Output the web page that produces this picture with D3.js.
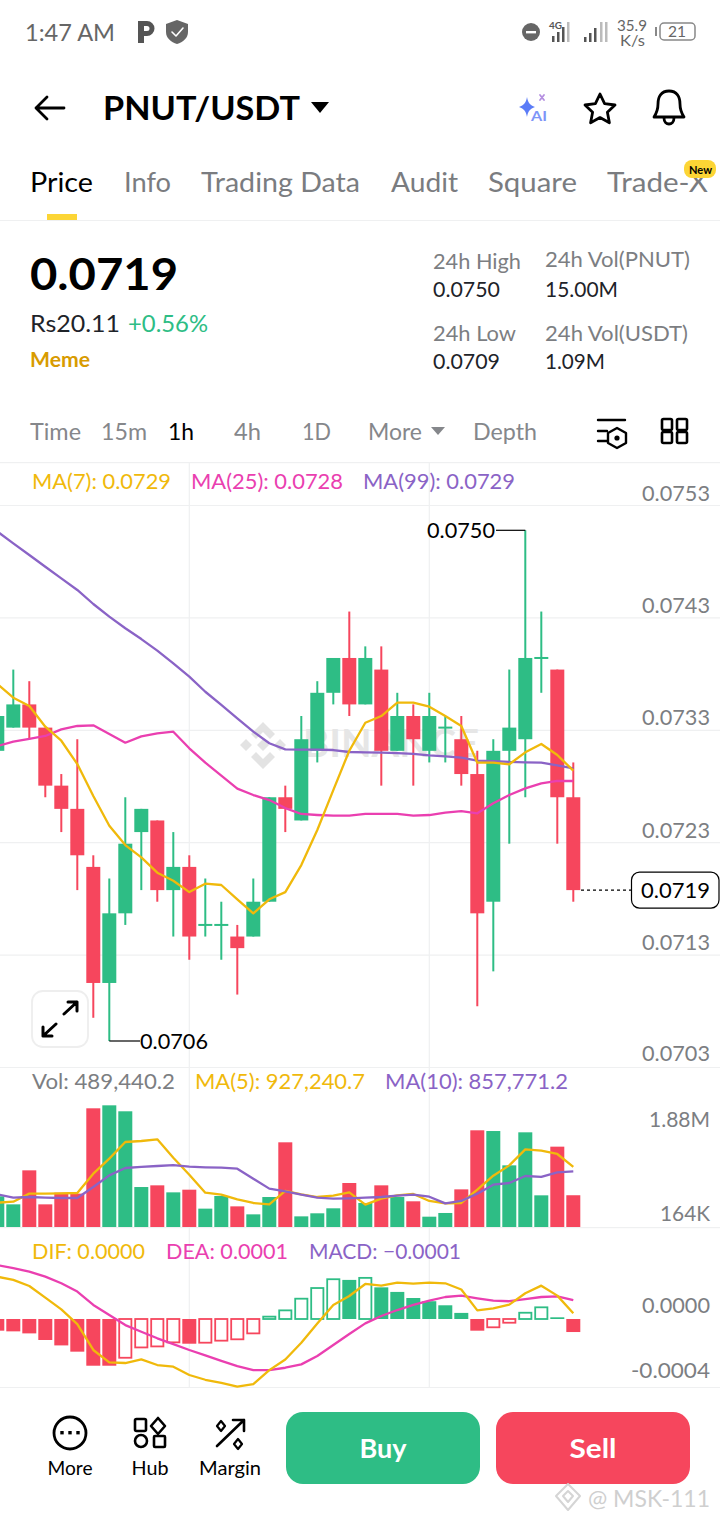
<!DOCTYPE html>
<html>
<head>
<meta charset="UTF-8">
<title>PNUT/USDT</title>
<script src="https://cdn.jsdelivr.net/npm/d3@7"></script>
<style>
html, body { margin: 0; padding: 0; background: #fff; }
svg { display: block; }
text { font-family: Lato, "Noto Sans", sans-serif; }
</style>
</head>
<body>
<div id="chart"></div>
<script>
// prices are in units of 0.0001
var open_ = [731,733,735,733,728,726,721,711,717,724,725,719,721,716,716,715,715,718,727,725,731,736,739,735,738,731,734,731,733,732,729,718,731,732,739,738,727];
var close_ = [734,735,733,728,726,722,711,717,723,726,719,721,715,716,716,714,718,727,726,732,736,739,735,739,731,734,732,734,733,729,717,731,733,739,739,727,719];
var high = [734,738,737,733,729,732,722,720,727,726,725,724,722,720,718,716,720,727,728,734,737,739,743,740,740,736,735,736,734,734,731,732,738,750,743,738,730];
var low = [731,733,732,727,724,719,708,706,716,719,718,715,713,715,713,710,715,718,724,725,730,735,734,735,728,731,728,730,730,728,709,712,723,727,736,723,718];

var ma7 = [736.76,735.58,734.86,733.08,731.87,729.86,727.11,724.55,722.88,721.82,720.50,719.81,718.83,719.55,719.44,718.21,717.00,718.21,718.83,721.16,724.18,727.62,731.01,733.42,734.00,735.15,735.15,734.80,734.00,733.14,729.98,729.98,729.84,730.87,731.59,730.64,729.29];
var ma25 = [731.41,731.79,732.04,732.28,732.85,733.14,733.20,732.45,731.70,732.25,732.51,732.65,731.22,729.98,728.86,727.74,727.19,726.76,726.07,725.56,725.47,725.41,725.41,725.56,725.56,725.56,725.41,725.47,725.67,725.81,725.62,726.48,727.19,727.77,728.20,728.42,728.40];
var ma99 = [749.90,748.88,747.87,746.86,745.86,744.86,743.65,742.56,741.56,740.63,739.63,738.54,737.39,736.09,734.95,733.80,732.65,731.65,731.13,731.10,731.10,731.07,730.90,730.87,730.84,730.81,730.73,730.61,730.53,730.41,730.15,730.12,730.04,730.01,729.98,729.75,729.49];

// volume, thousands
var volume = [473,349,873,349,529,514,1829,1875,1783,616,642,534,575,283,478,318,195,462,1305,164,211,288,678,370,642,462,396,159,216,580,1490,1479,950,1459,488,1238,489.4];
var volMa5 = [375,390,514,514,519,524,822,1053,1310,1325,1351,1068,806,529,498,426,370,349,555,503,462,483,534,344,437,488,509,401,365,370,575,791,950,1197,1176,1125,927];
var volMa10 = [503,452,462,452,447,447,616,796,909,925,940,955,930,920,914,899,745,591,550,498,452,437,442,452,462,483,498,467,365,401,514,652,678,786,771,842,858];

// MACD, units of 0.0001
var hist = [-0.69,-0.73,-0.85,-1.24,-1.56,-1.93,-2.76,-2.76,-2.29,-1.68,-1.62,-1.38,-1.46,-1.40,-1.28,-1.20,-0.85,0.14,0.51,1.20,1.83,2.35,2.31,2.43,1.87,1.60,1.24,1.05,0.81,0.36,-0.69,-0.49,-0.22,0.37,0.69,0.10,-0.77];
var dif = [2.50,2.31,1.95,1.26,0.57,-0.30,-1.83,-2.56,-2.60,-2.39,-2.72,-2.82,-3.31,-3.59,-3.77,-4.00,-3.85,-3.02,-2.39,-1.40,-0.26,0.83,1.36,2.07,1.97,2.15,2.09,2.15,2.11,1.74,0.51,0.63,0.85,1.52,1.97,1.38,0.34];
var dea = [3.18,3.00,2.80,2.50,2.11,1.62,0.83,0.24,-0.36,-0.75,-1.14,-1.48,-1.83,-2.15,-2.47,-2.78,-3.02,-3.02,-2.88,-2.68,-2.19,-1.54,-0.89,-0.26,0.18,0.53,0.83,1.08,1.30,1.38,1.22,1.08,1.05,1.18,1.30,1.34,1.12];

var priceTicks = ["0.0753","0.0743","0.0733","0.0723","0.0713","0.0703"];
var volTicks = [1880, 164];
var volTickLabels = ["1.88M", "164K"];
var macdTicks = [0, -4];
var macdTickLabels = ["0.0000", "-0.0004"];
var lastPrice = 719;
var highMark = 33, lowMark = 7;

var tabs = ["Price","Info","Trading Data","Audit","Square","Trade-X"];
var intervals = ["Time","15m","1h","4h","1D","More","Depth"];

var GREEN = "#2ebd85", RED = "#f6465d", YELLOW = "#f0b90b", PINK = "#ea3fb0", PURPLE = "#8a63c6";
var GRID = "#eff0f1", GREY = "#7c7e82";

var svg = d3.select("#chart").append("svg").attr("width", 720).attr("height", 1522);

// text helper, width forces the measured width of the reference
function label(str, x, y, size, fill, width, weight, anchor) {
  var t = svg.append("text").attr("x", x).attr("y", y).attr("font-size", size)
    .attr("fill", fill).attr("font-weight", weight || 400).attr("text-anchor", anchor || "start").text(str);
  if (width) t.attr("textLength", width).attr("lengthAdjust", "spacingAndGlyphs");
  return t;
}
function icon(d, stroke, sw, fill) {
  return svg.append("path").attr("d", d).attr("fill", fill || "none").attr("stroke", stroke || "none")
    .attr("stroke-width", sw || 0).attr("stroke-linejoin", "round").attr("stroke-linecap", "round");
}

var idx = d3.range(open_.length);
var x = d3.scaleLinear().domain([0, open_.length - 1]).range([-2.7, 573.3]);
var yPrice = d3.scaleLinear().domain([706, 750]).range([1041, 530.3]);
var yPriceGrid = d3.scalePoint().domain(priceTicks).range([505, 1067]);
var yVol = d3.scaleLinear().domain([0, 1880]).range([1227, 1105]);
var yMacd = d3.scaleLinear().domain([-4, 0]).range([1386.7, 1319]);

// ---------- status bar and header ----------
label("1:47 AM", 25, 41, 24, "#666", 90);
icon("M138 43V21h9a7.5 7.5 0 0 1 0 15h-3v7z M144 26v5h3a2.5 2.5 0 0 0 0-5z", null, 0, "#555").attr("fill-rule", "evenodd");
icon("M177 20l11 4v8c0 6-5 10-11 12-6-2-11-6-11-12v-8z", null, 0, "#666");
icon("M172 32l4 4 7-8", "#fff", 1.6);
svg.append("circle").attr("cx", 531).attr("cy", 32).attr("r", 9).attr("fill", "#666");
svg.append("rect").attr("x", 526).attr("y", 31).attr("width", 10).attr("height", 2.4).attr("fill", "#fff");
label("4G", 549, 29, 10, "#555", 13, 700);
[[552,6],[557,10],[562,15],[567,20]].forEach(function (b) {
  svg.append("rect").attr("x", b[0]).attr("y", 42 - b[1]).attr("width", 2.5).attr("height", b[1]).attr("fill", b[1] > 18 ? "#bbb" : "#555");
});
[[584,5],[589,9],[594,14],[600,20],[605,20]].forEach(function (b, i) {
  svg.append("rect").attr("x", b[0]).attr("y", 42 - b[1]).attr("width", 2.5).attr("height", b[1]).attr("fill", i > 2 ? "#bbb" : "#555");
});
label("35.9", 617, 31, 15, "#666", 30);
label("K/s", 620, 46, 15, "#666", 25);
svg.append("rect").attr("x", 660).attr("y", 23).attr("width", 35).attr("height", 17).attr("rx", 4).attr("fill", "none").attr("stroke", "#888").attr("stroke-width", 1.5);
svg.append("rect").attr("x", 655).attr("y", 27).attr("width", 2).attr("height", 9).attr("fill", "#888");
label("21", 668, 37, 15, "#666", 18);

icon("M64 108H36M47 97L36 108L47 119", "#000", 2.8);
label("PNUT/USDT", 103, 120, 33, "#000", 197, 700);
icon("M311 102h18l-9 11z", null, 0, "#000");
icon("M527 97c1 6 3 8 8 10-5 2-7 4-8 10-1-6-3-8-8-10 5-2 7-4 8-10z", null, 0, "#5b7cf7");
label("AI", 531, 121, 13, "#7d95f8", 16, 700);
icon("M540 95l4 5M544 95l-4 5", "#b48ee0", 1.8);
icon("M600 94l4.6 9.6 10.4 1.4-7.6 7.2 2 10.6-9.4-5.2-9.4 5.2 2-10.6-7.6-7.2 10.4-1.4z", "#000", 2.8);
icon("M669 91c-8 0-11 6-11 13 0 6-2 10-4 13h30c-2-3-4-7-4-13 0-7-3-13-11-13z M664 118c0 8 10 8 10 0", "#000", 2.8);

// tabs
var tabX = [30,124,201,391,488,607], tabW = [63,47,159,67,89,101];
svg.selectAll(".tab").data(tabs).enter().append("text").attr("class", "tab")
  .attr("x", function (d, i) { return tabX[i]; }).attr("y", 192).attr("font-size", 27)
  .attr("textLength", function (d, i) { return tabW[i]; }).attr("lengthAdjust", "spacingAndGlyphs")
  .attr("fill", function (d, i) { return i == 0 ? "#000" : "#7a7c80"; })
  .text(function (d) { return d; });
svg.append("rect").attr("x", 684).attr("y", 160).attr("width", 32).attr("height", 18).attr("rx", 8).attr("fill", "#fcd535");
label("New", 689, 174, 12, "#000", 23, 700);
svg.append("rect").attr("x", 47).attr("y", 214).attr("width", 30).attr("height", 6).attr("fill", "#fcd535");
svg.append("rect").attr("x", 0).attr("y", 220).attr("width", 720).attr("height", 1).attr("fill", GRID);

// ---------- price summary ----------
label("0.0719", 30, 290, 44, "#000", 148, 700);
label("Rs20.11", 30, 332, 23, "#1e2329", 90);
label("+0.56%", 128, 332, 23, GREEN, 80);
label("Meme", 30, 367, 21, "#d89b00", 60, 700);
label("24h High", 433, 269, 21, GREY, 88);
label("0.0750", 433, 297, 21, "#1e2329", 67);
label("24h Vol(PNUT)", 545, 267, 21, GREY, 145);
label("15.00M", 545, 297, 21, "#1e2329", 73);
label("24h Low", 433, 341, 21, GREY, 83);
label("0.0709", 433, 369, 21, "#1e2329", 67);
label("24h Vol(USDT)", 545, 341, 21, GREY, 143);
label("1.09M", 545, 369, 21, "#1e2329", 60);

// ---------- interval row ----------
var intX = [30,101,168,234,302,368,473], intW = [51,46,26,27,29,54,64];
svg.selectAll(".interval").data(intervals).enter().append("text").attr("class", "interval")
  .attr("x", function (d, i) { return intX[i]; }).attr("y", 440).attr("font-size", 24)
  .attr("textLength", function (d, i) { return intW[i]; }).attr("lengthAdjust", "spacingAndGlyphs")
  .attr("fill", function (d) { return d == "1h" ? "#000" : "#85878b"; })
  .text(function (d) { return d; });
icon("M431 427h14l-7 8z", null, 0, "#85878b");
icon("M598 420h27M598 431h9M598 441h9", "#000", 2.4);
icon("M617 428l9 5v10l-9 5-9-5v-10z", "#000", 2.4);
svg.append("circle").attr("cx", 617).attr("cy", 438).attr("r", 2.6).attr("fill", "#000");
[[662,419],[677,419],[662,432],[677,432]].forEach(function (p) {
  svg.append("rect").attr("x", p[0]).attr("y", p[1]).attr("width", 10).attr("height", 11).attr("rx", 1.5)
    .attr("fill", "none").attr("stroke", "#000").attr("stroke-width", 2.6);
});

// ---------- grid ----------
var priceAxis = svg.append("g").attr("class", "axis")
  .call(d3.axisRight(yPriceGrid).tickSize(720).tickPadding(0));
priceAxis.select(".domain").remove();
priceAxis.selectAll("line").attr("stroke", GRID).attr("stroke-width", 1.2);
priceAxis.selectAll("text").attr("x", 710).attr("dy", 0)
  .attr("y", function (d, i) { return i == priceTicks.length - 1 ? -7 : -5; })
  .attr("text-anchor", "end").attr("font-size", 21).attr("fill", GREY)
  .attr("font-family", "Lato").attr("textLength", 68).attr("lengthAdjust", "spacingAndGlyphs");

[462, 1227, 1387].forEach(function (y) {
  svg.append("rect").attr("x", 0).attr("y", y).attr("width", 720).attr("height", 1.2).attr("fill", GRID);
});
svg.selectAll(".vgrid").data([12, 27]).enter().append("line").attr("class", "vgrid")
  .attr("x1", function (d) { return x(d); }).attr("x2", function (d) { return x(d); })
  .attr("y1", 462).attr("y2", 1387).attr("stroke", GRID).attr("stroke-width", 1.2);

// watermark
var wm = "M263 722l12 12-5 5-7-7-7 7-5-5z M240 745l6-6 6 6-6 6z M274 745l6-6 6 6-6 6z M257 745l6-6 6 6-6 6z M263 769l-12-12 5-5 7 7 7-7 5 5z";
icon(wm, null, 0, "#e3e3e3");
label("BINANCE", 303, 757, 38, "#e6e6e6", 176, 700);

// legends
label("MA(7): 0.0729", 32, 489, 21, YELLOW, 139);
label("MA(25): 0.0728", 191, 489, 21, PINK, 152);
label("MA(99): 0.0729", 363, 489, 21, PURPLE, 152);
label("Vol: 489,440.2", 32, 1089, 21, GREY, 143);
label("MA(5): 927,240.7", 195, 1089, 21, YELLOW, 170);
label("MA(10): 857,771.2", 385, 1089, 21, PURPLE, 183);
label("DIF: 0.0000", 32, 1259, 21, YELLOW, 113);
label("DEA: 0.0001", 166, 1259, 21, PINK, 122);
label("MACD: \u22120.0001", 309, 1259, 21, PURPLE, 152);

// ---------- candles ----------
function up(i) { return close_[i] >= open_[i]; }
function col(i) { return up(i) ? GREEN : RED; }

svg.selectAll(".wick").data(idx).enter().append("line").attr("class", "wick")
  .attr("x1", function (i) { return x(i); }).attr("x2", function (i) { return x(i); })
  .attr("y1", function (i) { return yPrice(high[i]); }).attr("y2", function (i) { return yPrice(low[i]); })
  .attr("stroke", col).attr("stroke-width", 2);
svg.selectAll(".body").data(idx).enter().append("rect").attr("class", "body")
  .attr("x", function (i) { return x(i) - 7; }).attr("width", 14)
  .attr("y", function (i) { return yPrice(Math.max(open_[i], close_[i])) - (open_[i] == close_[i] ? 1 : 0); })
  .attr("height", function (i) { return Math.max(2, yPrice(Math.min(open_[i], close_[i])) - yPrice(Math.max(open_[i], close_[i]))); })
  .attr("fill", col);

function drawLine(values, yScale, color, width) {
  var line = d3.line().x(function (d, i) { return x(i); }).y(function (d) { return yScale(d); });
  svg.append("path").datum(values).attr("d", line).attr("fill", "none").attr("stroke", color)
    .attr("stroke-width", width || 2.3).attr("stroke-linejoin", "round");
}
drawLine(ma99, yPrice, PURPLE);
drawLine(ma25, yPrice, PINK);
drawLine(ma7, yPrice, YELLOW);

// high and low tags
svg.append("line").attr("x1", 496).attr("x2", x(highMark)).attr("y1", yPrice(high[highMark])).attr("y2", yPrice(high[highMark])).attr("stroke", "#000").attr("stroke-width", 1.2);
label(d3.format(".4f")(high[highMark] / 10000), 427, yPrice(high[highMark]) + 8, 22, "#000", 68);
svg.append("line").attr("x1", x(lowMark)).attr("x2", 140).attr("y1", yPrice(low[lowMark])).attr("y2", yPrice(low[lowMark])).attr("stroke", "#000").attr("stroke-width", 1.2);
label(d3.format(".4f")(low[lowMark] / 10000), 140, yPrice(low[lowMark]) + 8, 22, "#000", 68);

// last price
svg.append("line").attr("x1", 581).attr("x2", 631).attr("y1", yPrice(lastPrice)).attr("y2", yPrice(lastPrice))
  .attr("stroke", "#000").attr("stroke-width", 1.2).attr("stroke-dasharray", "3,3");
svg.append("rect").attr("x", 631.5).attr("y", yPrice(lastPrice) - 18).attr("width", 87.5).attr("height", 36).attr("rx", 8)
  .attr("fill", "#fff").attr("stroke", "#000").attr("stroke-width", 1.2);
label(d3.format(".4f")(lastPrice / 10000), 641, yPrice(lastPrice) + 8, 22, "#000", 69);

// expand button
svg.append("rect").attr("x", 32).attr("y", 991).attr("width", 56).attr("height", 56).attr("rx", 11).attr("fill", "#fff").attr("stroke", "#eeeeee").attr("stroke-width", 1.8);
icon("M64 1014L77 1002M68 1002h9v9M56 1024L43 1036M43 1027v9h9", "#000", 3);

// ---------- volume ----------
svg.selectAll(".vol").data(idx).enter().append("rect").attr("class", "vol")
  .attr("x", function (i) { return x(i) - 7; }).attr("width", 14)
  .attr("y", function (i) { return yVol(volume[i]); })
  .attr("height", function (i) { return yVol(0) - yVol(volume[i]); })
  .attr("fill", col);
drawLine(volMa5, yVol, YELLOW);
drawLine(volMa10, yVol, PURPLE);
svg.selectAll(".voltick").data(volTicks).enter().append("text").attr("class", "voltick")
  .attr("x", 710).attr("text-anchor", "end").attr("font-size", 21).attr("fill", GREY)
  .attr("y", function (d, i) { return i == 0 ? yVol(d) + 22 : yVol(d) + 5; })
  .attr("textLength", function (d, i) { return i == 0 ? 61 : 50; }).attr("lengthAdjust", "spacingAndGlyphs")
  .text(function (d, i) { return volTickLabels[i]; });

// ---------- MACD ----------
function histCol(i) { return hist[i] >= 0 ? GREEN : RED; }
function hollow(i) { return i > 0 && hist[i] > hist[i - 1]; }
svg.selectAll(".hist").data(idx).enter().append("rect").attr("class", "hist")
  .attr("x", function (i) { return x(i) - (hollow(i) ? 6.1 : 7); })
  .attr("width", function (i) { return hollow(i) ? 12.2 : 14; })
  .attr("y", function (i) { return Math.min(yMacd(hist[i]), yMacd(0)); })
  .attr("height", function (i) { return Math.abs(yMacd(hist[i]) - yMacd(0)); })
  .attr("fill", function (i) { return hollow(i) ? "#fff" : histCol(i); })
  .attr("stroke", function (i) { return hollow(i) ? histCol(i) : "none"; })
  .attr("stroke-width", 1.8);
drawLine(dea, yMacd, PINK);
drawLine(dif, yMacd, YELLOW);
svg.selectAll(".macdtick").data(macdTicks).enter().append("text").attr("class", "macdtick")
  .attr("x", 710).attr("text-anchor", "end").attr("font-size", 21).attr("fill", GREY)
  .attr("y", function (d, i) { return i == 0 ? yMacd(d) - 6 : yMacd(d) - 9; })
  .attr("textLength", function (d, i) { return i == 0 ? 68 : 79; }).attr("lengthAdjust", "spacingAndGlyphs")
  .text(function (d, i) { return macdTickLabels[i]; });

// ---------- bottom bar ----------
svg.append("rect").attr("x", 0).attr("y", 1388).attr("width", 720).attr("height", 134).attr("fill", "#fff");
svg.append("circle").attr("cx", 70).attr("cy", 1433).attr("r", 16).attr("fill", "none").attr("stroke", "#000").attr("stroke-width", 2.8);
[62, 70, 78].forEach(function (cx) {
  svg.append("rect").attr("x", cx - 1.7).attr("y", 1431).attr("width", 3.4).attr("height", 3.4).attr("fill", "#000");
});
label("More", 70, 1475, 20, "#000", 45, 400, "middle");
svg.append("rect").attr("x", 135).attr("y", 1419).attr("width", 11).attr("height", 12).attr("rx", 1.5).attr("fill", "none").attr("stroke", "#000").attr("stroke-width", 2.6);
icon("M158 1418l7 8-7 8-7-8z", "#000", 2.6);
svg.append("circle").attr("cx", 141).attr("cy", 1441).attr("r", 6).attr("fill", "none").attr("stroke", "#000").attr("stroke-width", 2.6);
svg.append("rect").attr("x", 154).attr("y", 1436).attr("width", 11).attr("height", 11).attr("rx", 1).attr("fill", "none").attr("stroke", "#000").attr("stroke-width", 2.6);
label("Hub", 150, 1475, 20, "#000", 37, 400, "middle");
icon("M217 1446L244 1420M233 1420h11v11", "#000", 2.6);
icon("M221 1421l4 5-4 5-4-5z", "#000", 2.2);
icon("M238 1439l4 5-4 5-4-5z", "#000", 2.2);
label("Margin", 230, 1475, 20, "#000", 62, 400, "middle");
svg.append("rect").attr("x", 286).attr("y", 1412).attr("width", 194).attr("height", 72).attr("rx", 17).attr("fill", GREEN);
svg.append("rect").attr("x", 496).attr("y", 1412).attr("width", 194).attr("height", 72).attr("rx", 17).attr("fill", RED);
label("Buy", 383, 1458, 26, "#fff", 47, 700, "middle");
label("Sell", 593, 1458, 26, "#fff", 47, 700, "middle");
icon("M568 1484l12 12-12 14-12-14z M568 1491l5 5-5 6-5-6z", "#d5d5d5", 2);
label("@ MSK-111", 588, 1507, 24, "#cfcfcf", 122);
</script>
</body>
</html>
